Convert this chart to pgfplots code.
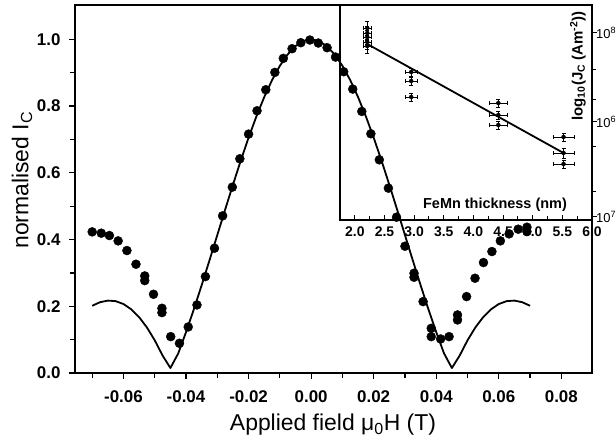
\documentclass[border=0pt]{standalone}
\usepackage{pgfplots}
\pgfplotsset{compat=1.18}
\usepackage{fontspec}
\setmainfont{Liberation Sans}
\begin{document}
\begin{tikzpicture}
\useasboundingbox (-75bp,-74bp) rectangle (541bp,373bp);
\begin{axis}[
  at={(0bp,0bp)}, anchor=south west,
  scale only axis, width=517bp, height=368bp,
  xmin=-0.0755, xmax=0.0898, ymin=0, ymax=1.103,
  axis line style={line width=1.5bp},
  xtick={-0.06,-0.04,-0.02,0,0.02,0.04,0.06,0.08},
  minor xtick={-0.07,-0.05,-0.03,-0.01,0.01,0.03,0.05,0.07},
  ytick={0,0.2,0.4,0.6,0.8,1.0},
  minor ytick={0.1,0.3,0.5,0.7,0.9},
  tick align=outside, xtick pos=bottom, ytick pos=left,
  major tick length=6bp, minor tick length=5bp,
  tick style={black, line width=1.2bp},
  scaled x ticks=false,
  /pgf/number format/assume math mode=true,
  xticklabel style={yshift=-8bp, /pgf/number format/fixed, /pgf/number format/fixed zerofill, /pgf/number format/precision=2},
  yticklabel style={xshift=-5bp, /pgf/number format/fixed, /pgf/number format/fixed zerofill, /pgf/number format/precision=1},
  tick label style={font=\fontsize{17}{17}\selectfont\bfseries},
  xlabel={Applied field μ\textsubscript{0}H (T)},
  ylabel={normalised I\textsubscript{C}},
  label style={font=\fontsize{23}{23}\selectfont},
  xlabel style={at={(axis description cs:0.499,-0.141)}, anchor=center},
  ylabel style={at={(axis description cs:-0.1025,0.524)}, anchor=center},
]
\addplot[black, line width=1.8bp, line join=round] coordinates {
(-0.07,0.20152) (-0.0675,0.21221) (-0.065,0.21702) (-0.0625,0.21536) (-0.06,0.20675)
(-0.0575,0.19083) (-0.055,0.16741) (-0.0525,0.13642) (-0.05,0.09798) (-0.0475,0.05237)
(-0.045,0.015) (-0.0425,0.05853) (-0.04,0.12248) (-0.0375,0.19099) (-0.035,0.26306)
(-0.0325,0.33762) (-0.03,0.41350) (-0.0275,0.48946) (-0.025,0.56425) (-0.0225,0.63662)
(-0.02,0.70532) (-0.0175,0.76915) (-0.015,0.82699) (-0.0125,0.87782) (-0.01,0.92073)
(-0.0075,0.95493) (-0.005,0.97981) (-0.0025,0.99493) (0,1)
(0.0025,0.99493) (0.005,0.97981) (0.0075,0.95493) (0.01,0.92073) (0.0125,0.87782)
(0.015,0.82699) (0.0175,0.76915) (0.02,0.70532) (0.0225,0.63662) (0.025,0.56425)
(0.0275,0.48946) (0.03,0.41350) (0.0325,0.33762) (0.035,0.26306) (0.0375,0.19099)
(0.04,0.12248) (0.0425,0.05853) (0.045,0.015) (0.0475,0.05237) (0.05,0.09798)
(0.0525,0.13642) (0.055,0.16741) (0.0575,0.19083) (0.06,0.20675) (0.0625,0.21536)
(0.065,0.21702) (0.0675,0.21221) (0.07,0.20152)
};
\addplot[only marks, mark=*, mark size=4.5bp, black] coordinates {
(-0.0700,0.423) (-0.0671,0.419) (-0.0645,0.412) (-0.0617,0.396) (-0.0589,0.367)
(-0.0560,0.326) (-0.0532,0.291) (-0.0532,0.277) (-0.0504,0.236) (-0.0477,0.194)
(-0.0477,0.181) (-0.0449,0.109) (-0.0421,0.089) (-0.0393,0.138) (-0.0365,0.204)
(-0.0338,0.289) (-0.0309,0.374) (-0.0283,0.471) (-0.0252,0.557) (-0.0228,0.642)
(-0.0200,0.716) (-0.0173,0.786) (-0.0145,0.849) (-0.0116,0.901) (-0.0089,0.943)
(-0.0061,0.972) (-0.0033,0.990) (-0.0004,0.998) (0.0023,0.989) (0.0051,0.975)
(0.0078,0.947) (0.0104,0.903) (0.0133,0.851) (0.0162,0.784) (0.0191,0.717)
(0.0218,0.639) (0.0247,0.554) (0.0273,0.467) (0.0300,0.380) (0.0329,0.299)
(0.0329,0.287) (0.0358,0.214) (0.0384,0.134) (0.0384,0.109) (0.0414,0.102)
(0.0441,0.109) (0.0468,0.174) (0.0468,0.159) (0.0497,0.229) (0.0524,0.284)
(0.0551,0.331) (0.0578,0.364) (0.0605,0.396) (0.0633,0.417) (0.0662,0.431)
(0.0690,0.437) (0.0690,0.424)
};
\end{axis}
\begin{axis}[
  at={(265bp,153bp)}, anchor=south west,
  scale only axis, width=252bp, height=215bp,
  xmin=1.75, xmax=6.0, ymin=0, ymax=215,
  axis line style={line width=1.5bp},
  xtick={2,2.5,3,3.5,4,4.5,5,5.5,6},
  minor xtick={2.25,2.75,3.25,3.75,4.25,4.75,5.25,5.75},
  ytick={3,98,187},
  yticklabels={10\textsuperscript{7},10\textsuperscript{6},10\textsuperscript{8}},
  minor ytick={28,73,120,150},
  xtick pos=bottom, ytick pos=right, yticklabel pos=right,
  xtick align=inside, ytick align=outside,
  major tick length=5bp, minor tick length=3.5bp,
  tick style={black, line width=1bp},
  /pgf/number format/assume math mode=true,
  xticklabel style={yshift=-3bp, font=\fontsize{14}{14}\selectfont\bfseries, /pgf/number format/fixed, /pgf/number format/fixed zerofill, /pgf/number format/precision=1},
  yticklabel style={font=\fontsize{13}{13}\selectfont, inner sep=0pt, anchor=west, xshift=-1bp},
]
\addplot[black, line width=1.8bp] coordinates {(2.21,176) (5.52,67)};
\addplot[only marks, mark=*, mark size=2bp, black,
  error bars/.cd, x dir=both, x explicit, y dir=both, y explicit,
  error bar style={line width=0.6bp}, error mark options={rotate=90, mark size=2bp, line width=0.6bp}]
  table[x=x, y=y, x error=ex, y error=ey] {
x y ex ey
2.21 192 0.06 7
2.21 187 0.06 7
2.21 183 0.06 7
2.21 178 0.06 7
2.21 174 0.06 7
2.95 148 0.10 4
2.95 139 0.10 4
2.95 123 0.10 4
4.42 117 0.15 4
4.42 105 0.15 4
4.42 95 0.15 4
5.52 83 0.18 4
5.52 67 0.18 5
5.52 56 0.18 4
};
\node[font=\fontsize{14.5}{14.5}\selectfont\bfseries, anchor=center] at (rel axis cs:0.615,0.07) {FeMn thickness (nm)};
\node[font=\fontsize{15}{15}\selectfont\bfseries, anchor=center, rotate=90] at (rel axis cs:0.944,0.716) {log\textsubscript{10}(J\textsubscript{C} (Am\textsuperscript{-2}))};
\end{axis}
\end{tikzpicture}
\end{document}
